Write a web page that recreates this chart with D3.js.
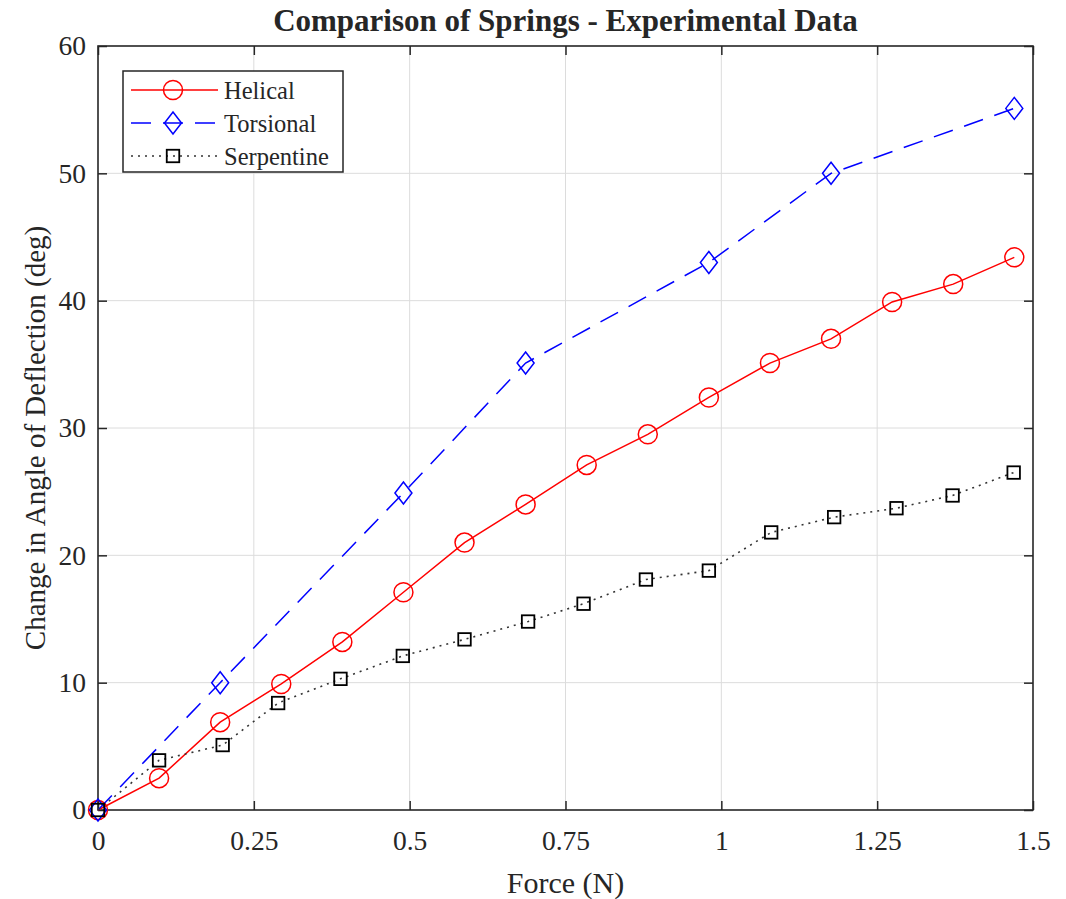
<!DOCTYPE html>
<html>
<head>
<meta charset="utf-8">
<script src="https://cdn.jsdelivr.net/npm/d3@7"></script>
<style>
  html, body { margin: 0; padding: 0; background: #fff; }
  svg { display: block; }
  text { font-family: "Liberation Serif", "Times New Roman", serif; fill: #262626; }
</style>
</head>
<body>
<svg id="chart" width="1066" height="899"></svg>
<script>
// ---- Data ----
const force = [0, 0.098, 0.196, 0.294, 0.392, 0.49, 0.588, 0.686, 0.784, 0.882, 0.98, 1.078, 1.176, 1.274, 1.372, 1.47];
const helical = [0, 2.5, 6.9, 9.9, 13.2, 17.1, 21.0, 24.0, 27.1, 29.5, 32.4, 35.1, 37.0, 39.9, 41.3, 43.4];
const torsionalForce = [0, 0.196, 0.49, 0.686, 0.98, 1.176, 1.47];
const torsional = [0, 10.0, 24.9, 35.1, 43.0, 50.0, 55.1];
const serpentineForce = [0, 0.098, 0.2, 0.289, 0.389, 0.489, 0.588, 0.69, 0.779, 0.879, 0.98, 1.08, 1.181, 1.281, 1.371, 1.469];
const serpentine = [0, 3.9, 5.1, 8.4, 10.3, 12.1, 13.4, 14.8, 16.2, 18.1, 18.8, 21.8, 23.0, 23.7, 24.7, 26.5];
const xTicks = [0, 0.25, 0.5, 0.75, 1, 1.25, 1.5];
const xTickLabels = ["0", "0.25", "0.5", "0.75", "1", "1.25", "1.5"];
const yTicks = [0, 10, 20, 30, 40, 50, 60];
const seriesNames = ["Helical", "Torsional", "Serpentine"];
const titleText = "Comparison of Springs - Experimental Data";
const xLabel = "Force (N)";
const yLabel = "Change in Angle of Deflection (deg)";

// ---- Layout ----
const L = 98, R = 1033, T = 46, B = 810;
const svg = d3.select("#chart");
const x = d3.scaleLinear().domain([0, 1.5]).range([L, R]);
const y = d3.scaleLinear().domain([0, 60]).range([B, T]);

const series = [
  {name: seriesNames[0], xs: force, ys: helical, color: "#ff0000", dash: null, width: 1.5, marker: "circle"},
  {name: seriesNames[1], xs: torsionalForce, ys: torsional, color: "#0000ff", dash: "20,12", width: 1.5, marker: "diamond"},
  {name: seriesNames[2], xs: serpentineForce, ys: serpentine, color: "#333333", dash: "2,5", width: 1.6, marker: "square"}
];

// ---- Grid ----
const grid = svg.append("g");
grid.selectAll("line.gx").data(xTicks.slice(1, -1)).enter().append("line")
  .attr("x1", d => x(d)).attr("x2", d => x(d)).attr("y1", T).attr("y2", B)
  .attr("stroke", "#dcdcdc").attr("stroke-width", 1);
grid.selectAll("line.gy").data(yTicks.slice(1, -1)).enter().append("line")
  .attr("x1", L).attr("x2", R).attr("y1", d => y(d)).attr("y2", d => y(d))
  .attr("stroke", "#dcdcdc").attr("stroke-width", 1);

// ---- Axes ----
const tickLen = 9;
const xAxis = svg.append("g").attr("transform", `translate(0,${B})`)
  .call(d3.axisBottom(x).tickValues(xTicks).tickFormat((d, i) => xTickLabels[i]).tickSize(-tickLen).tickPadding(20));
const yAxis = svg.append("g").attr("transform", `translate(${L},0)`)
  .call(d3.axisLeft(y).tickValues(yTicks).tickFormat(d3.format("d")).tickSize(-tickLen).tickPadding(12));
const xTop = svg.append("g").attr("transform", `translate(0,${T})`)
  .call(d3.axisTop(x).tickValues(xTicks).tickFormat("").tickSize(-tickLen));
const yRight = svg.append("g").attr("transform", `translate(${R},0)`)
  .call(d3.axisRight(y).tickValues(yTicks).tickFormat("").tickSize(-tickLen));
[xAxis, yAxis, xTop, yRight].forEach(g => {
  g.select(".domain").remove();
  g.selectAll(".tick line").attr("stroke", "#262626").attr("stroke-width", 1.5);
  g.selectAll(".tick text").attr("font-family", "Liberation Serif").attr("font-size", 27.5).attr("fill", "#333");
});
svg.append("rect").attr("x", L).attr("y", T).attr("width", R - L).attr("height", B - T)
  .attr("fill", "none").attr("stroke", "#262626").attr("stroke-width", 1.6);

// ---- Markers ----
function drawMarker(g, type, cx, cy, color) {
  if (type === "circle") {
    g.append("circle").attr("cx", cx).attr("cy", cy).attr("r", 9.5)
      .attr("fill", "none").attr("stroke", color).attr("stroke-width", 1.5);
  } else if (type === "diamond") {
    const hw = 8.5, hh = 11;
    g.append("path").attr("d", `M${cx},${cy - hh}L${cx + hw},${cy}L${cx},${cy + hh}L${cx - hw},${cy}Z`)
      .attr("fill", "none").attr("stroke", color).attr("stroke-width", 1.5);
  } else {
    const s = 12.5;
    g.append("rect").attr("x", cx - s / 2).attr("y", cy - s / 2).attr("width", s).attr("height", s)
      .attr("fill", "none").attr("stroke", "#000").attr("stroke-width", 1.8);
  }
}

// ---- Lines ----
const line = d3.line().x(d => x(d[0])).y(d => y(d[1]));
series.forEach(s => {
  const pts = s.xs.map((v, i) => [v, s.ys[i]]);
  const g = svg.append("g");
  g.append("path").datum(pts).attr("d", line)
    .attr("fill", "none").attr("stroke", s.color).attr("stroke-width", s.width)
    .attr("stroke-dasharray", s.dash);
  pts.forEach(p => drawMarker(g, s.marker, x(p[0]), y(p[1]), s.color));
});

// ---- Legend ----
const lg = svg.append("g");
lg.append("rect").attr("x", 123).attr("y", 71).attr("width", 220).attr("height", 101)
  .attr("fill", "#fff").attr("stroke", "#262626").attr("stroke-width", 1.5);
const rowY = [90, 123, 156];
series.forEach((s, i) => {
  lg.append("line").attr("x1", 131).attr("x2", 218).attr("y1", rowY[i]).attr("y2", rowY[i])
    .attr("stroke", s.color).attr("stroke-width", s.width).attr("stroke-dasharray", s.dash);
  drawMarker(lg, s.marker, 173, rowY[i], s.color);
  lg.append("text").attr("x", 224).attr("y", rowY[i]).attr("dy", "0.35em")
    .attr("font-size", 24.5).text(s.name);
});

// ---- Titles ----
svg.append("text").attr("x", (L + R) / 2).attr("y", 31).attr("text-anchor", "middle")
  .attr("font-size", 31).attr("font-weight", "bold").attr("fill", "#000").text(titleText);
svg.append("text").attr("x", (L + R) / 2).attr("y", 893).attr("text-anchor", "middle")
  .attr("font-size", 30).attr("fill", "#333").text(xLabel);
svg.append("text").attr("transform", `translate(45,438) rotate(-90)`).attr("text-anchor", "middle")
  .attr("font-size", 29).attr("fill", "#333").text(yLabel);
</script>
</body>
</html>
